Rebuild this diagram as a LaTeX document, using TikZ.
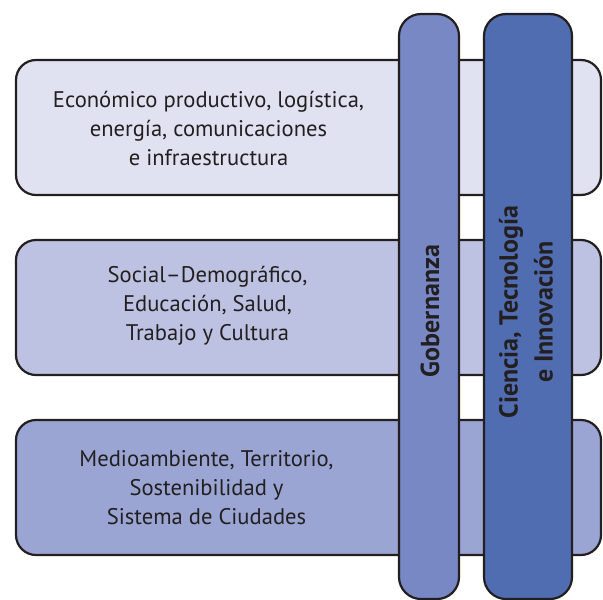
\documentclass[tikz,border=0pt]{standalone}
\usepackage{fontspec}
\setmainfont{PT Sans}
\usepackage{xcolor}
\usetikzlibrary{positioning}

\definecolor{rowA}{HTML}{E1E2F1}
\definecolor{rowB}{HTML}{BEC2E2}
\definecolor{rowC}{HTML}{9AA5D3}
\definecolor{gobC}{HTML}{7788C4}
\definecolor{ctiC}{HTML}{506DB1}
\definecolor{ink}{HTML}{231F20}

\tikzset{
    rowbox/.style={draw=ink, line width=1.1pt, rounded corners=10pt, minimum width=292.5pt, minimum height=67.5pt, inner sep=0pt},
    colbox/.style={draw=ink, line width=1.1pt, rounded corners=11pt, minimum height=292.5pt, inner sep=0pt},
    rowtext/.style={align=center, text=ink, font=\fontsize{11.3}{14.5}\selectfont},
    coltext/.style={align=center, text=ink, rotate=90, font=\fontsize{13}{17.5}\selectfont\bfseries}
}

\begin{document}
\begin{tikzpicture}[x=0.5pt, y=-0.5pt]
    \useasboundingbox (0,0) rectangle (603,599);

    \node[rowbox, fill=rowA] (eco) at (308.5,127.5) {};
    \node[rowbox, fill=rowB] (soc) at (308.5,307.5) {};
    \node[rowbox, fill=rowC] (amb) at (308.5,487.5) {};

    \node[rowtext] (ecotxt) at (208.5,128) {Económico productivo, logística,\\energía, comunicaciones\\e infraestructura};
    \node[rowtext] (soctxt) at (207.5,306) {Social–Demográfico,\\Educación, Salud,\\Trabajo y Cultura};
    \node[rowtext] (ambtxt) at (206.5,488) {Medioambiente, Territorio,\\Sostenibilidad y\\Sistema de Ciudades};

    \node[colbox, fill=gobC, minimum width=30pt] (gob) at (429,306.5) {};
    \node[colbox, fill=ctiC, minimum width=44pt] (cti) at (528,306.5) {};

    \node[coltext] (gobtxt) at (430,311) {Gobernanza};
    \node[coltext] (ctitxt) at (526,312) {Ciencia, Tecnología\\e Innovación};
\end{tikzpicture}
\end{document}
